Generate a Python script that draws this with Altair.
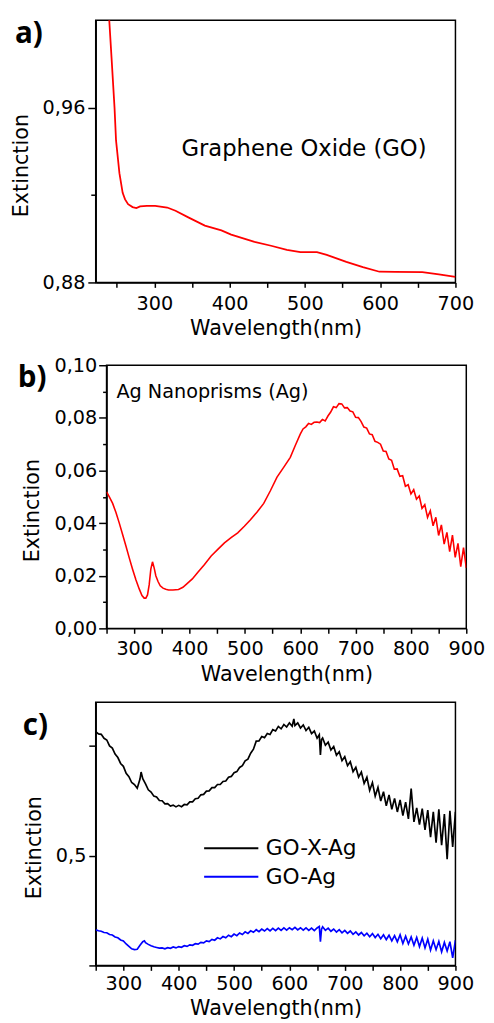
import altair as alt
import pandas as pd

FONT = "DejaVu Sans"

# ---------------- Panel a: Graphene Oxide ----------------
a_wl = [238, 240, 243, 247, 249, 253.5, 257.8, 261, 265, 271, 276, 281, 290, 301, 317, 328,
        345, 367, 389, 402, 433, 455, 476, 494, 516, 529, 555, 577, 599, 620, 656, 678, 700]
a_ext = [1.01, 1.0, 0.983, 0.96, 0.945, 0.930, 0.921, 0.918, 0.9158, 0.9145, 0.9140, 0.9148,
         0.915, 0.915, 0.9143, 0.9128, 0.9098, 0.906, 0.9038, 0.9019, 0.8986, 0.8968, 0.8949,
         0.8939, 0.8939, 0.8926, 0.8894, 0.887, 0.8849, 0.8848, 0.8847, 0.8837, 0.8825]

# ---------------- Panel b: Ag nanoprisms ----------------
b_wl = [250, 255, 261, 267, 273, 279, 285, 291, 297, 303, 309, 314, 318, 321, 324, 327, 330,
        333, 336, 339, 343, 347, 352, 357, 362, 370, 380, 388, 395, 405, 415, 427, 439, 451,
        463, 475, 487, 499, 510, 522, 534, 546, 558, 570, 582, 591, 600,
        605, 610, 615, 620, 625, 630, 635, 640, 645, 650, 655, 660, 665, 670, 675, 680, 685,
        690, 695, 700, 705, 710, 715, 720, 725, 730, 735, 740, 745, 750, 755, 760, 765, 770,
        775, 780, 785, 790, 795, 800, 805, 810, 815, 820, 825, 830, 835, 840, 845, 850, 855,
        860, 865, 870, 875, 880, 885, 890, 895, 900]
b_ext = [0.0519, 0.0500, 0.0475, 0.0440, 0.0400, 0.0357, 0.0313, 0.0268, 0.0225, 0.0185,
         0.0150, 0.0125, 0.0115, 0.0115, 0.0127, 0.0165, 0.0225, 0.0253, 0.0230, 0.0200,
         0.0178, 0.0162, 0.0153, 0.0149, 0.0146, 0.0146, 0.0148, 0.0156, 0.0169, 0.0188,
         0.0213, 0.0243, 0.0275, 0.0300, 0.0325, 0.0345, 0.0363, 0.0388, 0.0413, 0.0442,
         0.0475, 0.0523, 0.0575, 0.0612, 0.0650, 0.0695, 0.0738,
         0.0758, 0.0766, 0.0779, 0.0775, 0.0783, 0.0784, 0.0782, 0.0794, 0.0788, 0.0807,
         0.0822, 0.0842, 0.0839, 0.0854, 0.0853, 0.0838, 0.0839, 0.0826, 0.0823, 0.0802,
         0.0801, 0.0786, 0.0765, 0.0761, 0.0739, 0.0736, 0.0711, 0.0707, 0.0700, 0.0674,
         0.0672, 0.0644, 0.0639, 0.0605, 0.0606, 0.0578, 0.0580, 0.0540, 0.0546, 0.0511,
         0.0527, 0.0491, 0.0503, 0.0456, 0.0470, 0.0422, 0.0447, 0.0390, 0.0422, 0.0353,
         0.0393, 0.0320, 0.0365, 0.0292, 0.0354, 0.0270, 0.0323, 0.0235, 0.0307, 0.0230]

# ---------------- Panel c: GO-X-Ag and GO-Ag ----------------
c_series = ["GO-X-Ag", "GO-Ag"]
c_colors = ["#000000", "#0000ff"]

gxa_wl = [250, 255, 260, 265, 270, 275, 280, 285, 290, 295, 300, 305, 310, 315, 320, 325,
          330, 332, 335, 340, 345, 350, 355, 360, 365, 370, 375, 380, 385, 390, 395, 400,
          405, 410, 415, 420, 425, 430, 435, 440, 445, 450, 455, 460, 465, 470, 475, 480,
          485, 490, 495, 500, 505, 510, 515, 520, 525, 530, 535, 540, 545, 550, 555, 560,
          565, 570, 575, 580, 585, 590, 595, 600, 605, 608, 610, 615, 620, 625, 630, 635,
          640, 645, 650, 654, 656, 658, 660, 665, 670, 675, 680, 685, 690, 695, 700, 705,
          710, 715, 720, 725, 730, 735, 740, 745, 750, 755, 760, 765, 770, 775, 780, 785,
          790, 795, 800, 805, 810, 815, 820, 825, 830, 835, 840, 845, 850, 855, 860, 865,
          870, 875, 880, 885, 890, 895, 900]
gxa_ext = [1.066, 1.056, 1.054, 1.036, 1.028, 1.001, 0.991, 0.964, 0.948, 0.921, 0.908, 0.876,
           0.861, 0.834, 0.825, 0.808, 0.850, 0.882, 0.852, 0.828, 0.801, 0.791, 0.772, 0.768,
           0.752, 0.751, 0.737, 0.738, 0.727, 0.731, 0.723, 0.730, 0.724, 0.734, 0.732, 0.746,
           0.746, 0.760, 0.762, 0.778, 0.780, 0.795, 0.796, 0.811, 0.811, 0.825, 0.825, 0.839,
           0.841, 0.858, 0.862, 0.879, 0.884, 0.903, 0.911, 0.933, 0.941, 0.968, 0.986, 1.023,
           1.024, 1.044, 1.039, 1.058, 1.053, 1.075, 1.069, 1.090, 1.079, 1.099, 1.087, 1.106,
           1.091, 1.124, 1.094, 1.106, 1.083, 1.097, 1.071, 1.086, 1.057, 1.069, 1.036, 1.052,
           0.960, 1.030, 1.037, 1.004, 1.018, 0.982, 0.998, 0.958, 0.974, 0.934, 0.952, 0.911,
           0.929, 0.884, 0.904, 0.859, 0.882, 0.830, 0.858, 0.798, 0.834, 0.772, 0.812, 0.750,
           0.792, 0.728, 0.778, 0.712, 0.762, 0.700, 0.755, 0.683, 0.745, 0.668, 0.806, 0.655,
           0.718, 0.642, 0.715, 0.618, 0.708, 0.585, 0.700, 0.560, 0.712, 0.548, 0.690, 0.485,
           0.705, 0.540, 0.700]

ga_wl = [250, 255, 260, 265, 270, 275, 280, 285, 290, 295, 300, 305, 310, 315, 320, 325,
         330, 335, 338, 340, 345, 350, 355, 360, 365, 370, 375, 380, 385, 390, 395, 400,
         405, 410, 415, 420, 425, 430, 435, 440, 445, 450, 455, 460, 465, 470, 475, 480,
         485, 490, 495, 500, 505, 510, 515, 520, 525, 530, 535, 540, 545, 550, 555, 560,
         565, 570, 575, 580, 585, 590, 595, 600, 605, 610, 615, 620, 625, 630, 635, 640,
         645, 650, 654, 656, 658, 660, 665, 670, 675, 680, 685, 690, 695, 700, 705, 710,
         715, 720, 725, 730, 735, 740, 745, 750, 755, 760, 765, 770, 775, 780, 785, 790,
         795, 800, 805, 810, 815, 820, 825, 830, 835, 840, 845, 850, 855, 860, 865, 870,
         875, 880, 885, 890, 895, 900]
ga_ext = [0.162, 0.158, 0.156, 0.150, 0.149, 0.141, 0.139, 0.130, 0.126, 0.116, 0.112, 0.098,
          0.087, 0.076, 0.072, 0.074, 0.092, 0.108, 0.112, 0.104, 0.096, 0.090, 0.085, 0.082,
          0.079, 0.080, 0.076, 0.081, 0.078, 0.084, 0.080, 0.086, 0.083, 0.090, 0.087, 0.094,
          0.092, 0.099, 0.097, 0.105, 0.103, 0.112, 0.109, 0.119, 0.115, 0.126, 0.121, 0.132,
          0.126, 0.138, 0.131, 0.143, 0.136, 0.148, 0.141, 0.153, 0.146, 0.158, 0.151, 0.163,
          0.154, 0.166, 0.157, 0.168, 0.158, 0.169, 0.159, 0.170, 0.160, 0.171, 0.161, 0.172,
          0.163, 0.174, 0.162, 0.172, 0.161, 0.171, 0.160, 0.170, 0.159, 0.171, 0.178, 0.108,
          0.165, 0.176, 0.160, 0.170, 0.156, 0.166, 0.152, 0.163, 0.149, 0.160, 0.146, 0.157,
          0.142, 0.153, 0.139, 0.150, 0.135, 0.147, 0.131, 0.145, 0.127, 0.142, 0.122, 0.140,
          0.118, 0.138, 0.112, 0.136, 0.108, 0.140, 0.100, 0.133, 0.098, 0.130, 0.092, 0.128,
          0.086, 0.125, 0.080, 0.120, 0.070, 0.112, 0.072, 0.110, 0.062, 0.105, 0.066, 0.108,
          0.035, 0.115]

assert len(a_wl) == len(a_ext)
assert len(b_wl) == len(b_ext)
assert len(gxa_wl) == len(gxa_ext)
assert len(ga_wl) == len(ga_ext)

# tick positions
a_xticks = [250, 300, 350, 400, 450, 500, 550, 600, 650, 700]
bc_xticks = [250, 300, 350, 400, 450, 500, 550, 600, 650, 700, 750, 800, 850, 900]
a_yticks = [0.88, 0.92, 0.96]
b_yticks = [0.0, 0.01, 0.02, 0.03, 0.04, 0.05, 0.06, 0.07, 0.08, 0.09, 0.10]
c_yticks = [0.0, 0.5, 1.0]

common = dict(
    grid=False, labelFont=FONT, titleFont=FONT, labelFontSize=19.5, titleFontSize=21,
    titleFontWeight="normal", labelColor="black", titleColor="black",
    domainColor="black", tickColor="black", domainWidth=1.5, tickWidth=1.5,
    labelOverlap=False,
)


def x_axis(values, label_pad, title_y):
    return alt.Axis(
        values=values, labelFlush=False, tickSize=5, labelPadding=label_pad,
        labelExpr="datum.value % 100 == 0 ? datum.label : ''",
        title="Wavelength(nm)", titleY=title_y, titleBaseline="alphabetic",
        **common,
    )


def y_axis(values, label_expr, tick_size, title_x, label_pad=3):
    return alt.Axis(
        values=values, labelExpr=label_expr, tickSize=tick_size, labelPadding=label_pad,
        title="Extinction", titleAngle=270, titleX=title_x, titleY=147,
        titleAlign="center", titleBaseline="middle", **common,
    )


def text_layer(txt, x, y, size, font=FONT, weight="normal", opacity=1.0, baseline="alphabetic"):
    return alt.Chart(pd.DataFrame({"t": [txt]})).mark_text(
        align="left", baseline=baseline, font=font, fontSize=size, fontWeight=weight,
        color="black", opacity=opacity,
    ).encode(text="t:N", x=alt.value(x), y=alt.value(y))


comma2 = "replace(format(datum.value, '.2f'), '.', ',')"

# ---------- panel a ----------
df_a = pd.DataFrame({"wl": a_wl, "ext": a_ext})
line_a = alt.Chart(df_a).mark_line(color="#ff0000", strokeWidth=1.8, clip=True).encode(
    x=alt.X("wl:Q", scale=alt.Scale(domain=[222, 700], nice=False, zero=False),
            axis=x_axis(a_xticks, 7, 53)),
    y=alt.Y("ext:Q", scale=alt.Scale(domain=[0.88, 1.0], nice=False, zero=False),
            axis=y_axis(a_yticks,
                        "abs(datum.value-0.92)<0.001 ? '' : " + comma2,
                        {"condition": {"test": "abs(datum.value-0.92)<0.001", "value": 5},
                         "value": 8},
                        -75)),
)
panel_a = alt.layer(
    line_a,
    text_layer("Graphene Oxide (GO)", 87, 138, 23),
    text_layer("a)", -82, 23, 30, font="Open Sans", weight="bold"),
    text_layer(".", -88, -4, 2, opacity=0, baseline="top"),
).properties(width=365, height=266)

# ---------- panel b ----------
df_b = pd.DataFrame({"wl": b_wl, "ext": b_ext})
line_b = alt.Chart(df_b).mark_line(color="#ff0000", strokeWidth=1.6, clip=True).encode(
    x=alt.X("wl:Q", scale=alt.Scale(domain=[250, 900], nice=False, zero=False),
            axis=x_axis(bc_xticks, 7, 53)),
    y=alt.Y("ext:Q", scale=alt.Scale(domain=[0.0, 0.10], nice=False, zero=False),
            axis=y_axis(b_yticks,
                        "round(datum.value*100) % 2 == 0 ? " + comma2 + " : ''",
                        {"condition": {"test": "round(datum.value*100) % 2 != 0", "value": 4},
                         "value": 8},
                        -75, label_pad=2)),
)
panel_b = alt.layer(
    line_b,
    text_layer("Ag Nanoprisms (Ag)", 10, 33, 19.5),
    text_layer("b)", -90, 22, 30, font="Open Sans", weight="bold"),
    text_layer(".", 0, -10, 2, opacity=0, baseline="top"),
).properties(width=365, height=267)

spacer = alt.Chart(pd.DataFrame({"v": [0]})).mark_point(opacity=0).properties(
    width=1, height=1, view=alt.ViewBackground(stroke="transparent")
)
row_b = alt.hconcat(spacer, panel_b, spacing=10, bounds="flush")

# ---------- panel c ----------
df_c = pd.concat([
    pd.DataFrame({"wl": gxa_wl, "ext": gxa_ext, "series": c_series[0]}),
    pd.DataFrame({"wl": ga_wl, "ext": ga_ext, "series": c_series[1]}),
], ignore_index=True)
line_c = alt.Chart(df_c).mark_line(strokeWidth=1.7, clip=True).encode(
    x=alt.X("wl:Q", scale=alt.Scale(domain=[250, 900], nice=False, zero=False),
            axis=x_axis(bc_xticks, 4, 50)),
    y=alt.Y("ext:Q", scale=alt.Scale(domain=[0.0, 1.2], nice=False, zero=False),
            axis=y_axis(c_yticks, "datum.value == 0.5 ? '0,5' : ''", 7, -62)),
    color=alt.Color(
        "series:N",
        scale=alt.Scale(domain=c_series, range=c_colors),
        legend=alt.Legend(
            title=None, orient="none", legendX=125.5, legendY=136,
            symbolType="M-2.5,0H2.5", symbolSize=484, symbolStrokeWidth=2,
            labelFont=FONT, labelFontSize=22, labelColor="black",
            labelOffset=23, rowPadding=6,
        ),
    ),
    detail="series:N",
)
panel_c = alt.layer(
    line_c,
    text_layer("c)", -74, 33, 30, font="Open Sans", weight="bold"),
    text_layer(".", 0, -1, 2, opacity=0, baseline="top"),
).properties(width=365, height=267)

chart = alt.vconcat(panel_a, row_b, panel_c, spacing=15).resolve_legend(
    color="independent"
).properties(
    padding={"left": 0, "top": 0, "right": 0, "bottom": 0}, background="white"
).configure_view(stroke="black", strokeWidth=1.5)

chart.save("out.html", embed_options={"renderer": "svg", "actions": False})
